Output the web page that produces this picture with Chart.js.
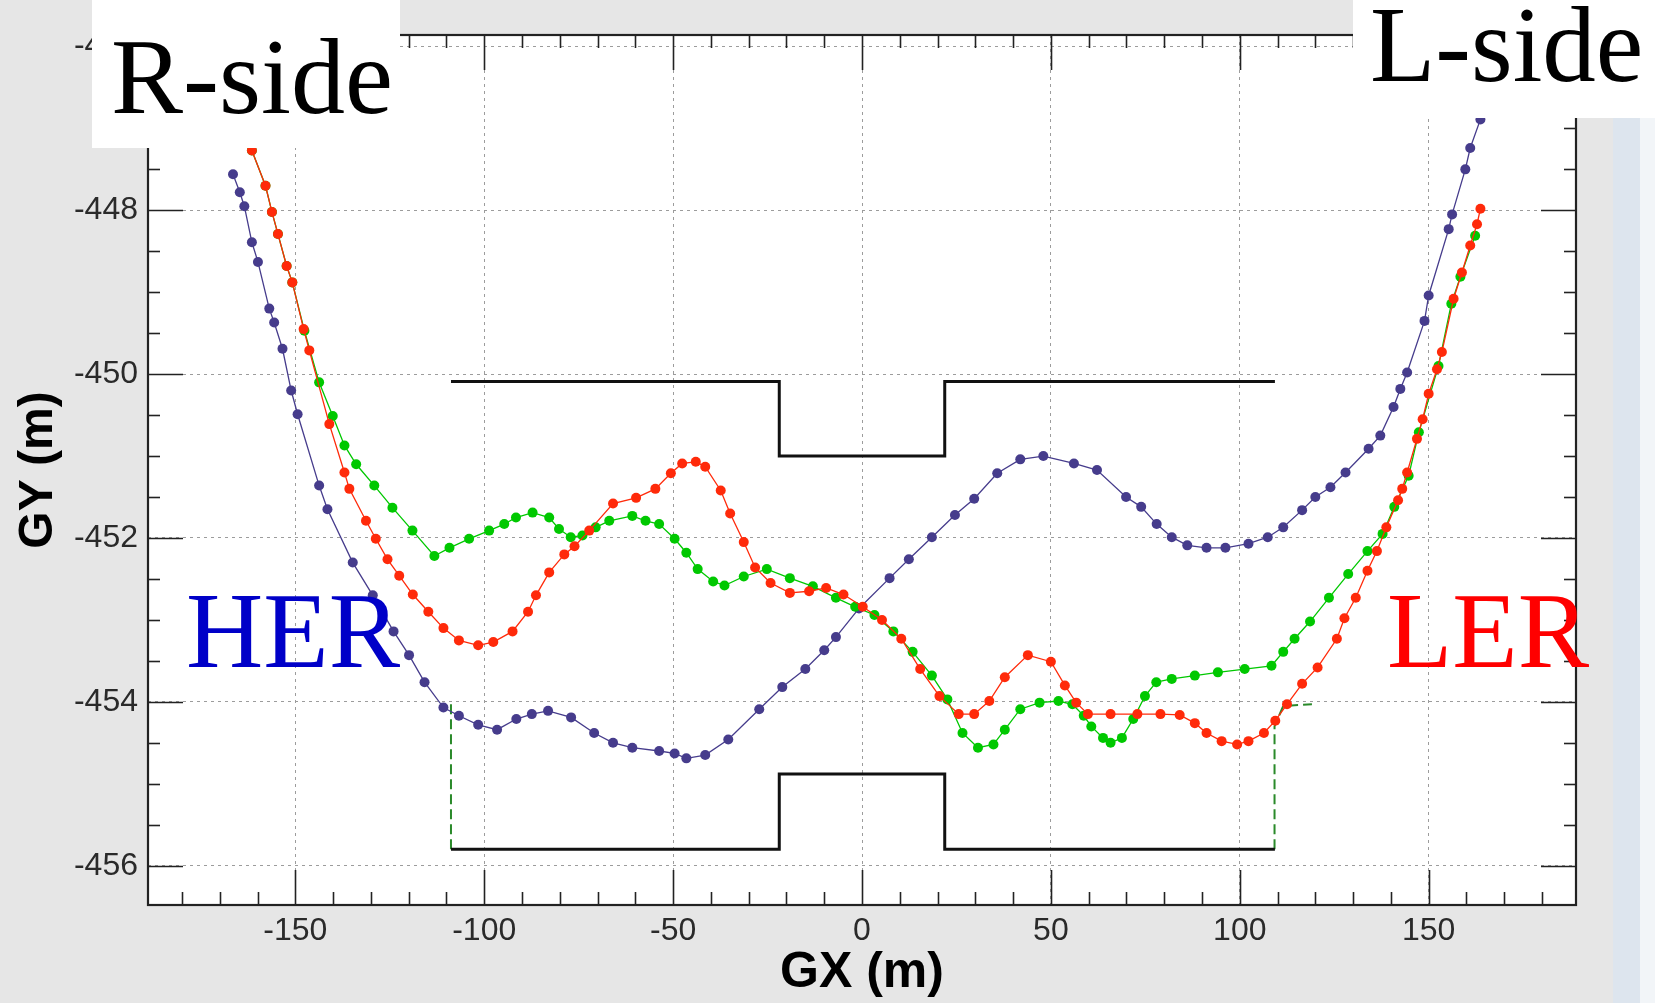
<!DOCTYPE html>
<html><head><meta charset="utf-8">
<script src="https://cdn.jsdelivr.net/npm/chart.js@4/dist/chart.umd.min.js"></script>
<style>
html,body{margin:0;padding:0;background:#e6e6e6;}
#wrap{position:relative;width:1655px;height:1003px;overflow:hidden;background:#e6e6e6;}
#strip{position:absolute;left:1613px;top:0;width:27px;height:1003px;background:#dde5ee;}
#strip2{position:absolute;left:1640px;top:0;width:15px;height:1003px;background:#f2f5f8;}
canvas{position:absolute;left:0;top:0;}
.box{position:absolute;background:#fff;}
.lab{position:absolute;font-family:"Liberation Serif","Times New Roman",serif;line-height:1;white-space:nowrap;}
</style></head><body>
<div id="wrap">
<div id="strip"></div><div id="strip2"></div>
<canvas id="c" width="1655" height="1003"></canvas>
<div class="box" style="left:92px;top:0;width:308px;height:148px;"></div>
<div class="box" style="left:1353px;top:0;width:302px;height:118px;"></div>
<div class="lab" style="left:111px;top:23px;font-size:108px;color:#000;">R-side</div>
<div class="lab" style="left:1370px;top:-8px;font-size:107px;color:#000;">L-side</div>
<div class="lab" style="left:186px;top:578px;font-size:107px;color:#0000c8;">HER</div>
<div class="lab" style="left:1387px;top:578px;font-size:107px;color:#ff0000;">LER</div>
</div>
<script>
// ---- data ----
const xTicks = [-150, -100, -50, 0, 50, 100, 150];
const yTicks = [-456, -454, -452, -450, -448, -446];
const xRange = [-189, 189];
const yRange = [-456.48, -445.86];

const herPoints = [
 [-166.5,-447.56],[-164.7,-447.78],[-163.5,-447.95],[-161.5,-448.39],[-159.9,-448.63],[-156.9,-449.20],
 [-155.6,-449.37],[-153.4,-449.69],[-151.1,-450.20],[-149.4,-450.49],[-143.7,-451.36],[-141.5,-451.65],
 [-134.8,-452.30],[-129.5,-452.70],[-124.0,-453.14],[-119.9,-453.43],[-115.8,-453.76],[-110.8,-454.07],
 [-106.7,-454.17],[-101.6,-454.28],[-96.6,-454.34],[-91.5,-454.21],[-87.4,-454.15],[-83.1,-454.11],
 [-77.0,-454.19],[-70.9,-454.38],[-65.9,-454.50],[-60.8,-454.56],[-53.7,-454.60],[-49.6,-454.63],
 [-46.5,-454.69],[-41.5,-454.65],[-35.4,-454.46],[-27.2,-454.09],[-21.1,-453.82],[-15.0,-453.60],
 [-10.0,-453.37],[-6.9,-453.21],[-0.8,-452.86],[7.3,-452.49],[12.4,-452.26],[18.5,-451.99],
 [24.6,-451.72],[29.7,-451.52],[35.8,-451.21],[41.9,-451.04],[48.0,-451.00],[56.1,-451.09],
 [62.2,-451.17],[69.9,-451.50],[73.9,-451.62],[78.0,-451.83],[82.0,-451.99],[86.1,-452.09],
 [91.2,-452.12],[96.2,-452.12],[102.3,-452.07],[107.4,-451.99],[111.5,-451.87],[116.5,-451.66],
 [120.0,-451.50],[124.0,-451.38],[128.0,-451.20],[134.1,-450.91],[137.2,-450.75],[140.7,-450.40],
 [142.5,-450.18],[144.3,-449.98],[148.9,-449.35],[150.0,-449.04],[155.3,-448.23],[156.2,-448.05],
 [159.7,-447.50],[161.0,-447.24],[163.7,-446.89],[165.2,-446.60]
];
const lerPoints = [
 [-163.0,-446.90],[-161.5,-447.27],[-157.9,-447.70],[-156.2,-448.02],[-154.6,-448.29],[-152.3,-448.68],
 [-150.8,-448.88],[-147.8,-449.45],[-146.3,-449.71],[-141.0,-450.61],[-137.0,-451.20],[-135.7,-451.40],
 [-131.3,-451.79],[-128.7,-452.01],[-125.6,-452.26],[-122.5,-452.46],[-118.9,-452.69],[-114.8,-452.90],
 [-110.8,-453.10],[-106.7,-453.25],[-101.6,-453.31],[-97.6,-453.27],[-92.5,-453.14],[-88.4,-452.90],
 [-86.3,-452.70],[-82.8,-452.42],[-78.8,-452.20],[-76.1,-452.10],[-72.2,-451.91],[-65.9,-451.58],
 [-59.8,-451.51],[-54.7,-451.40],[-50.6,-451.21],[-47.6,-451.09],[-44.0,-451.07],[-41.5,-451.13],
 [-37.4,-451.42],[-34.9,-451.70],[-31.3,-452.05],[-28.3,-452.36],[-24.2,-452.55],[-19.1,-452.67],
 [-14.0,-452.65],[-9.5,-452.61],[-4.9,-452.69],[0.2,-452.84],[5.3,-453.00],[10.4,-453.23],
 [15.4,-453.60],[20.5,-453.93],[25.6,-454.15],[29.7,-454.15],[33.7,-453.99],[37.8,-453.70],
 [43.9,-453.43],[50.0,-453.51],[53.7,-453.80],[56.7,-454.01],[59.8,-454.15],[65.8,-454.15],
 [72.9,-454.15],[79.0,-454.15],[84.1,-454.16],[88.1,-454.26],[91.2,-454.38],[95.2,-454.48],
 [99.3,-454.52],[102.3,-454.48],[106.4,-454.38],[109.4,-454.23],[112.5,-454.03],[116.5,-453.78],
 [120.6,-453.58],[125.7,-453.23],[127.7,-452.98],[130.7,-452.73],[133.8,-452.40],[136.3,-452.16],
 [138.8,-451.87],[141.9,-451.54],[143.0,-451.40],[144.3,-451.20],[146.9,-450.79],[148.4,-450.55],
 [150.0,-450.24],[152.2,-449.94],[153.5,-449.73],[156.6,-449.08],[158.8,-448.76],[161.0,-448.43],
 [162.8,-448.17],[163.7,-447.98]
];
const greenPoints = [
 [-163.0,-446.90],[-161.5,-447.27],[-157.9,-447.70],[-156.2,-448.02],[-154.6,-448.29],[-152.3,-448.68],
 [-150.8,-448.88],[-147.6,-449.47],[-143.7,-450.10],[-140.1,-450.51],[-137.0,-450.87],[-133.9,-451.10],
 [-129.1,-451.36],[-124.3,-451.63],[-119.0,-451.91],[-113.2,-452.22],[-109.2,-452.12],[-104.0,-452.01],
 [-98.7,-451.91],[-94.7,-451.83],[-91.6,-451.75],[-87.2,-451.69],[-82.8,-451.75],[-80.2,-451.89],
 [-77.1,-451.99],[-74.0,-451.97],[-70.5,-451.87],[-66.9,-451.79],[-60.8,-451.73],[-57.3,-451.79],
 [-53.7,-451.83],[-49.6,-452.01],[-46.5,-452.18],[-43.5,-452.38],[-39.4,-452.53],[-36.4,-452.58],
 [-31.3,-452.47],[-25.2,-452.38],[-19.1,-452.49],[-13.0,-452.59],[-6.9,-452.73],[-1.8,-452.84],
 [3.3,-452.94],[8.3,-453.14],[13.4,-453.39],[18.5,-453.68],[22.6,-453.97],[26.6,-454.38],
 [30.7,-454.56],[34.8,-454.52],[37.8,-454.34],[41.9,-454.09],[47.0,-454.01],[52.0,-453.99],
 [55.7,-454.03],[58.7,-454.17],[60.7,-454.30],[63.8,-454.44],[65.8,-454.50],[68.8,-454.44],
 [71.8,-454.21],[74.9,-453.93],[77.9,-453.76],[82.0,-453.72],[88.1,-453.68],[94.2,-453.64],
 [101.3,-453.60],[108.4,-453.56],[111.5,-453.39],[114.5,-453.23],[118.6,-453.02],[123.6,-452.73],
 [128.7,-452.44],[133.8,-452.16],[137.8,-451.95],[140.9,-451.62],[144.7,-451.24],[147.4,-450.71],
 [152.6,-449.90],[156.0,-449.14],[158.4,-448.81],[162.3,-448.31]
];
const tunnelUpper = [[-108.8,-450.09],[-21.9,-450.09],[-21.9,-451.00],[21.9,-451.00],[21.9,-450.09],[109.3,-450.09]];
const tunnelLower = [[-108.8,-455.80],[-21.9,-455.80],[-21.9,-454.88],[21.9,-454.88],[21.9,-455.80],[109.3,-455.80]];
const dashLeft  = [[-108.8,-455.80],[-108.8,-453.99]];
const dashRight = [[109.2,-455.80],[109.2,-454.30],[111.5,-454.05],[119.1,-454.03]];

// ---- chart ----
const pts = a => a.map(([x, y]) => ({x, y}));
const FONT = '"Liberation Sans", Arial, Helvetica, sans-serif';

function curve(data, color) {
  return {data: pts(data), showLine: true, borderColor: color, borderWidth: 1.3,
    pointRadius: 5, pointBackgroundColor: color, pointBorderWidth: 0, pointHoverRadius: 5, tension: 0};
}
function plain(data, color, width, dash) {
  return {data: pts(data), showLine: true, borderColor: color, borderWidth: width,
    borderDash: dash || [], pointRadius: 0, pointHoverRadius: 0, tension: 0};
}

const framePlugin = {
  id: 'frame',
  beforeDraw(chart) {
    const {ctx, chartArea: a} = chart;
    ctx.save(); ctx.fillStyle = '#fff';
    ctx.fillRect(a.left, a.top, a.right - a.left, a.bottom - a.top);
    ctx.restore();
  },
  afterDatasetsDraw(chart) {
    const {ctx, chartArea: a, scales: {x, y}} = chart;
    ctx.save();
    ctx.strokeStyle = '#222';
    ctx.lineWidth = 1.6;
    const line = (x1, y1, x2, y2) => { ctx.beginPath(); ctx.moveTo(x1, y1); ctx.lineTo(x2, y2); ctx.stroke(); };
    for (let v = -180; v <= 180; v += 10) {
      const px = Math.round(x.getPixelForValue(v)) + 0.5;
      const L = xTicks.includes(v) ? 35 : 13;
      line(px, a.bottom, px, a.bottom - L);
      line(px, a.top, px, a.top + L);
    }
    for (let v = -456; v <= -446; v += 0.5) {
      const py = Math.round(y.getPixelForValue(v)) + 0.5;
      const L = yTicks.includes(v) ? 35 : 12;
      line(a.left, py, a.left + L, py);
      line(a.right, py, a.right - L, py);
    }
    ctx.lineWidth = 2.2;
    ctx.strokeRect(a.left, a.top, a.right - a.left, a.bottom - a.top);
    ctx.restore();
  }
};

const tickOpts = {font: {family: FONT, size: 32}, color: '#2a2a2a', autoSkip: false, maxRotation: 0};

new Chart(document.getElementById('c'), {
  type: 'scatter',
  data: {datasets: [
    curve(lerPoints, '#ff2a0a'),
    curve(greenPoints, '#00c800'),
    curve(herPoints, '#463c8c'),
    plain(tunnelUpper, '#111', 3),
    plain(tunnelLower, '#111', 3),
    plain(dashLeft, '#2a8a2a', 2, [10, 5]),
    plain(dashRight, '#2a8a2a', 2, [10, 5])
  ]},
  options: {
    responsive: false, animation: false, devicePixelRatio: 1,
    layout: {padding: {top: 35, right: 79, left: 0, bottom: 0}},
    plugins: {legend: {display: false}, tooltip: {enabled: false}},
    scales: {
      x: {type: 'linear', min: xRange[0], max: xRange[1],
        afterBuildTicks: s => { s.ticks = xTicks.map(v => ({value: v})); },
        afterFit: s => { s.height = 98; },
        grid: {color: '#9c9c9c', lineWidth: 1, drawTicks: false},
        border: {display: false, dash: [3, 4]},
        ticks: {...tickOpts, padding: 7},
        title: {display: true, text: 'GX (m)', color: '#000',
          font: {family: FONT, size: 50, weight: 'bold'}, padding: {top: 0, bottom: 0}}
      },
      y: {type: 'linear', min: yRange[0], max: yRange[1],
        afterBuildTicks: s => { s.ticks = yTicks.map(v => ({value: v})); },
        afterFit: s => { s.width = 148; },
        grid: {color: '#9c9c9c', lineWidth: 1, drawTicks: false},
        border: {display: false, dash: [3, 4]},
        ticks: {...tickOpts, padding: 10},
        title: {display: true, text: 'GY (m)', color: '#000',
          font: {family: FONT, size: 48, weight: 'bold'}, padding: {top: 10, bottom: 0}}
      }
    }
  },
  plugins: [framePlugin]
});
</script>
</body></html>
